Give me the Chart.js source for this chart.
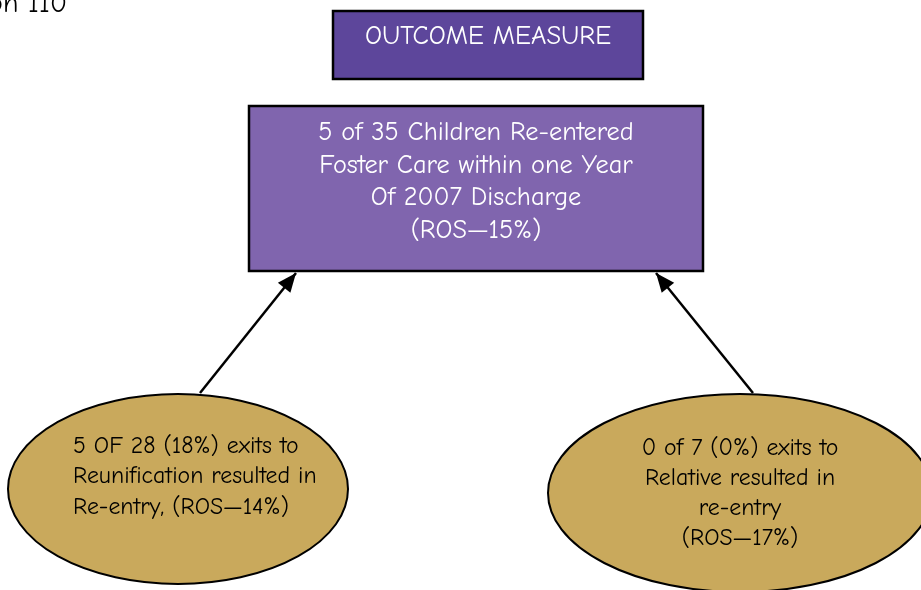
<!DOCTYPE html>
<html>
<head>
<meta charset="utf-8">
<script src="https://cdn.jsdelivr.net/npm/chart.js@4.4.1/dist/chart.umd.min.js"></script>
<style>
  html, body { margin: 0; padding: 0; background: #ffffff; }
  canvas { display: block; }
</style>
</head>
<body>
<canvas id="flowChart" width="921" height="590"></canvas>
<script>
// texts of the diagram
const pageRef = 'on 110';
const headerTitle = ['OUTCOME MEASURE'];
const summaryLines = ['5 of 35 Children Re-entered', 'Foster Care within one Year', 'Of 2007 Discharge', '(ROS\u201415%)'];
const reunificationLines = ['5 OF 28 (18%) exits to', 'Reunification resulted in', 'Re-entry, (ROS\u201414%)'];
const relativeLines = ['0 of 7 (0%) exits to', 'Relative resulted in', 're-entry', '(ROS\u201417%)'];

const FONT = '"Comic Sans MS", "Comic Neue", "DejaVu Sans", sans-serif';

// layout (in diagram units, same as the axis range)
const nodes = [
  { shape: 'rect', x1: 333, y1: 11, x2: 643, y2: 79, fill: '#5d469b', lines: headerTitle, color: '#ffffff', size: 26.5, cx: 488, firstY: 37, gap: 32, align: 'center', border: 2.5 },
  { shape: 'rect', x1: 249, y1: 106, x2: 703, y2: 271, fill: '#8065ae', lines: summaryLines, color: '#ffffff', size: 26.3, cx: 476, firstY: 133, gap: 32.5, align: 'center', border: 2.5 },
  { shape: 'ellipse', cx0: 178, cy0: 489, rx: 170, ry: 95, fill: '#c9a95c', lines: reunificationLines, color: '#000000', size: 23.8, cx: 73, firstY: 446, gap: 30.5, align: 'left', border: 2 },
  { shape: 'ellipse', cx0: 740, cy0: 493, rx: 192, ry: 99, fill: '#c9a95c', lines: relativeLines, color: '#000000', size: 23.8, cx: 740, firstY: 448, gap: 30, align: 'center', border: 2 }
];

const arrows = [
  [{ x: 200, y: 393 }, { x: 296, y: 273 }],
  [{ x: 753, y: 393 }, { x: 656, y: 273 }]
];

const diagramPlugin = {
  id: 'diagram',
  beforeDatasetsDraw(chart) {
    const { ctx, scales: { x, y } } = chart;
    ctx.save();
    nodes.forEach(n => {
      ctx.beginPath();
      if (n.shape === 'rect') {
        const px = x.getPixelForValue(n.x1), py = y.getPixelForValue(n.y1);
        ctx.rect(px, py, x.getPixelForValue(n.x2) - px, y.getPixelForValue(n.y2) - py);
      } else {
        const cx = x.getPixelForValue(n.cx0), cy = y.getPixelForValue(n.cy0);
        ctx.ellipse(cx, cy, x.getPixelForValue(n.cx0 + n.rx) - cx, y.getPixelForValue(n.cy0 + n.ry) - cy, 0, 0, Math.PI * 2);
      }
      ctx.fillStyle = n.fill;
      ctx.fill();
      ctx.lineWidth = n.border;
      ctx.strokeStyle = '#000000';
      ctx.stroke();

      ctx.fillStyle = n.color;
      ctx.font = n.size + 'px ' + FONT;
      ctx.textAlign = n.align;
      ctx.textBaseline = 'middle';
      n.lines.forEach((t, i) => {
        ctx.fillText(t, x.getPixelForValue(n.cx), y.getPixelForValue(n.firstY + i * n.gap));
      });
    });

    // cut-off page reference at the top left
    ctx.fillStyle = '#000000';
    ctx.font = '28px ' + FONT;
    ctx.textAlign = 'right';
    ctx.textBaseline = 'alphabetic';
    ctx.fillText(pageRef, x.getPixelForValue(67), y.getPixelForValue(12));
    ctx.restore();
  },
  afterDatasetsDraw(chart) {
    const { ctx, scales: { x, y } } = chart;
    ctx.save();
    ctx.fillStyle = '#000000';
    arrows.forEach(a => {
      const x0 = x.getPixelForValue(a[0].x), y0 = y.getPixelForValue(a[0].y);
      const x1 = x.getPixelForValue(a[1].x), y1 = y.getPixelForValue(a[1].y);
      const ang = Math.atan2(y1 - y0, x1 - x0);
      const len = 19, half = 8;
      ctx.beginPath();
      ctx.moveTo(x1, y1);
      ctx.lineTo(x1 - len * Math.cos(ang) + half * Math.sin(ang), y1 - len * Math.sin(ang) - half * Math.cos(ang));
      ctx.lineTo(x1 - len * Math.cos(ang) - half * Math.sin(ang), y1 - len * Math.sin(ang) + half * Math.cos(ang));
      ctx.closePath();
      ctx.fill();
    });
    ctx.restore();
  }
};

const ctx = document.getElementById('flowChart').getContext('2d');
new Chart(ctx, {
  type: 'scatter',
  data: {
    datasets: arrows.map(a => ({
      data: a,
      showLine: true,
      borderColor: '#000000',
      borderWidth: 2.5,
      pointRadius: 0,
      fill: false
    }))
  },
  options: {
    responsive: false,
    animation: false,
    layout: { padding: 0 },
    plugins: { legend: { display: false }, tooltip: { enabled: false } },
    scales: {
      x: { type: 'linear', min: 0, max: 921, display: false },
      y: { type: 'linear', min: 0, max: 590, reverse: true, display: false }
    }
  },
  plugins: [diagramPlugin]
});
</script>
</body>
</html>
